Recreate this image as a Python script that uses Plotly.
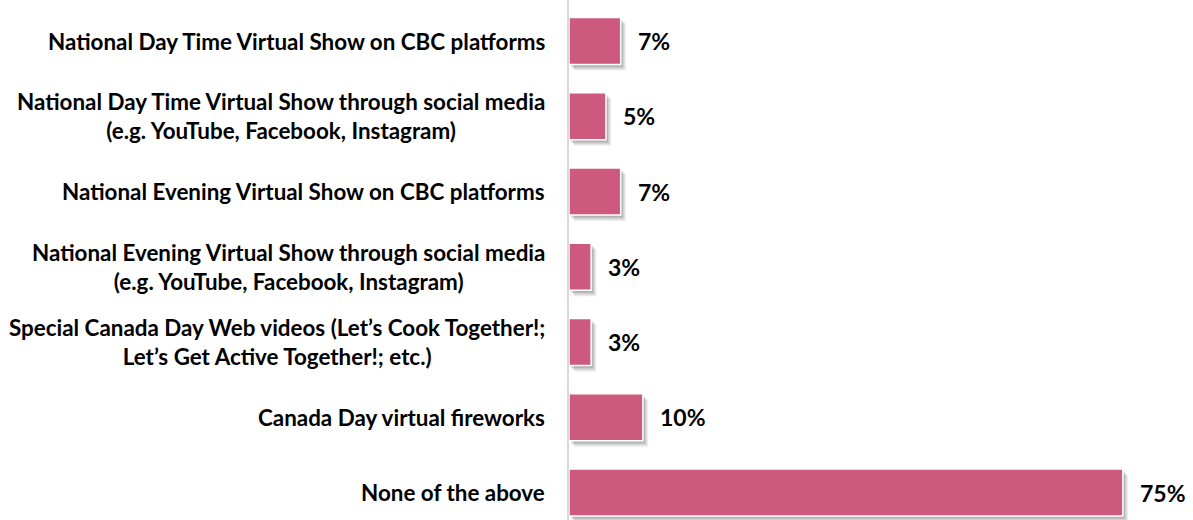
import plotly.graph_objects as go

categories = [
    "National Day Time Virtual Show on CBC platforms",
    "National Day Time Virtual Show through social media<br>(e.g. YouTube, Facebook, Instagram)",
    "National Evening Virtual Show on CBC platforms",
    "National Evening Virtual Show through social media<br>(e.g. YouTube, Facebook, Instagram)",
    "Special Canada Day Web videos (Let\u2019s Cook Together!;<br>Let\u2019s Get Active Together!; etc.)",
    "Canada Day virtual fireworks",
    "None of the above",
]
values = [7, 5, 7, 3, 3, 10, 75]
labels = ["7%", "5%", "7%", "3%", "3%", "10%", "75%"]

FONT = "Lato"
BAR_COLOR = "#CD5A7E"
BAR_W = 0.625
pos = list(range(len(categories)))

fig = go.Figure()

# soft drop shadow built from a few translucent layers
for dx, dy, a in [(0.7, 0.08, 0.08), (0.5, 0.06, 0.10), (0.3, 0.035, 0.14)]:
    fig.add_trace(go.Bar(
        y=pos, x=values, base=dx, orientation="h",
        width=BAR_W, offset=-BAR_W / 2 + dy,
        marker=dict(color=f"rgba(0,0,0,{a})", line=dict(width=0)),
        hoverinfo="skip", showlegend=False,
    ))

fig.add_trace(go.Bar(
    y=pos, x=values, orientation="h",
    width=BAR_W, offset=-BAR_W / 2,
    marker=dict(color=BAR_COLOR, line=dict(color="white", width=1.5)),
    showlegend=False,
))

# value labels to the right of each bar
for p, v, t in zip(pos, values, labels):
    fig.add_annotation(
        x=v, y=p, text=f"<b>{t}</b>", showarrow=False,
        xanchor="left", yanchor="middle", xshift=15,
        font=dict(family=FONT, size=23, color="black"),
    )

# category labels, centred line by line, left of the axis
for p, c in zip(pos, categories):
    fig.add_annotation(
        x=0, xref="paper", y=p, text=f"<b>{c}</b>", showarrow=False,
        xanchor="right", yanchor="middle", align="center", xshift=-22,
        font=dict(family=FONT, size=22.4, color="black"),
    )

fig.update_layout(
    width=1193, height=520,
    margin=dict(l=569, r=0, t=0, b=0),
    plot_bgcolor="white", paper_bgcolor="white",
    barmode="overlay",
    font=dict(family=FONT, size=22, color="black"),
)
fig.update_xaxes(
    range=[0, 84.5], showgrid=False, zeroline=False,
    showticklabels=False, showline=False,
)
fig.update_yaxes(
    range=[6.365, -0.545], showgrid=False, zeroline=False,
    showticklabels=False, ticks="",
    showline=True, linecolor="#D9D9D9", linewidth=2,
)

fig.write_html("out.html")
